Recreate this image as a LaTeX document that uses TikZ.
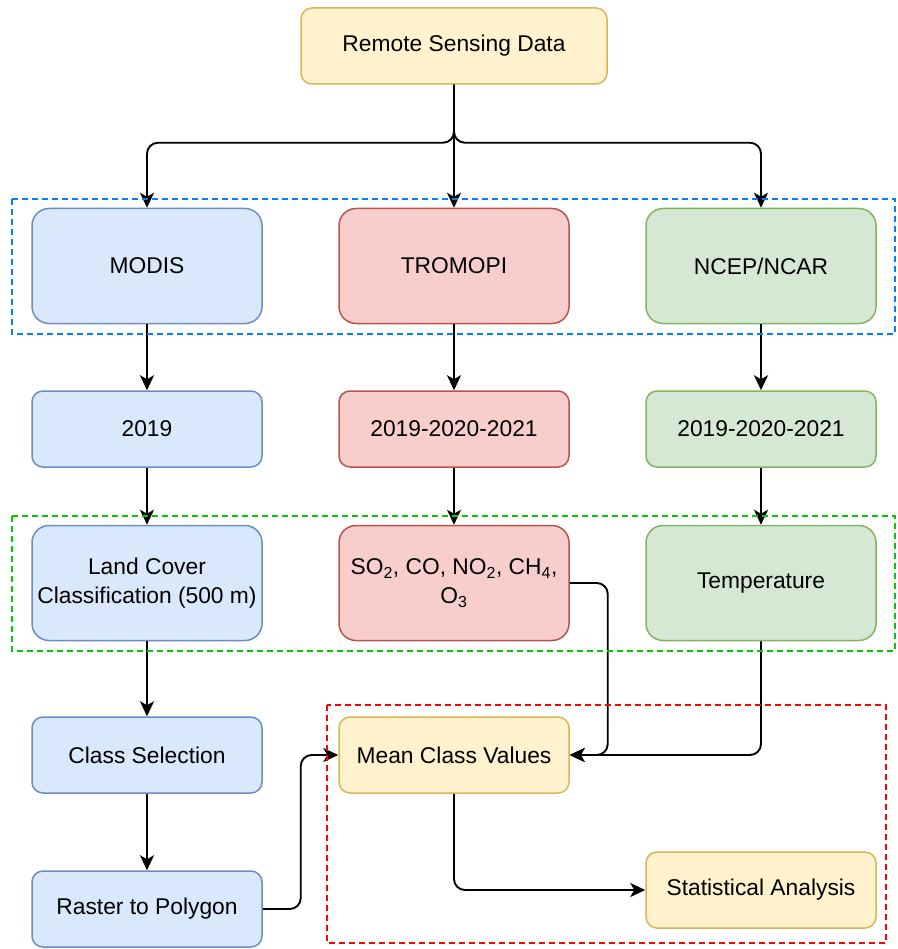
\documentclass[tikz,border=0pt]{standalone}
\usepackage{fontspec}
\setmainfont{Liberation Sans}
\usepackage{tikz}
\usetikzlibrary{arrows.meta, positioning}

\definecolor{yelfill}{HTML}{FFF2CC}\definecolor{yeldraw}{HTML}{D6B656}
\definecolor{bluefill}{HTML}{DAE8FC}\definecolor{bluedraw}{HTML}{6C8EBF}
\definecolor{redfill}{HTML}{F8CECC}\definecolor{reddraw}{HTML}{B85450}
\definecolor{grnfill}{HTML}{D5E8D4}\definecolor{grndraw}{HTML}{82B366}
\definecolor{framebl}{HTML}{007FFF}\definecolor{framegr}{HTML}{00CC00}
\definecolor{framerd}{HTML}{FF0000}

\tikzset{
  box/.style={draw, line width=1.5pt, minimum width=230pt, minimum height=76pt,
    rounded corners=11pt, align=center, font=\fontsize{22.8}{28.5}\selectfont, inner sep=2pt},
  tall/.style={minimum height=115pt, rounded corners=17pt},
  yelbox/.style={box, fill=yelfill, draw=yeldraw},
  bluebox/.style={box, fill=bluefill, draw=bluedraw},
  redbox/.style={box, fill=redfill, draw=reddraw},
  grnbox/.style={box, fill=grnfill, draw=grndraw},
  flow/.style={-{Stealth[length=15pt, width=14pt, inset=4pt]}, line width=1.9pt, rounded corners=11pt},
  frame/.style={dashed, dash pattern=on 6pt off 4pt, line width=1.6pt}
}

\begin{document}
\begin{tikzpicture}[x=1pt, y=-1pt]
    \useasboundingbox (0,0) rectangle (897,949);
    % top source
    \node[yelbox, minimum width=306pt] (rsd) at (454,46) {Remote Sensing Data};
    % data sources
    \node[bluebox, tall] (modis) at (147,266) {MODIS};
    \node[redbox, tall] (tropomi) at (454,266) {TROMOPI};
    \node[grnbox, tall] (ncep) at (761,266) {NCEP/NCAR};
    % years
    \node[bluebox] (yrmodis) at (147,429) {2019};
    \node[redbox] (yrtropomi) at (454,429) {2019-2020-2021};
    \node[grnbox] (yrncep) at (761,429) {2019-2020-2021};
    % products
    \node[bluebox, tall] (landcover) at (147,583) {Land Cover\\Classification (500 m)};
    \node[redbox, tall] (gases) at (454,583) {SO\textsubscript{2}, CO, NO\textsubscript{2}, CH\textsubscript{4},\\O\textsubscript{3}};
    \node[grnbox, tall] (temp) at (761,583) {Temperature};
    % processing
    \node[bluebox] (classsel) at (147,755) {Class Selection};
    \node[bluebox] (raster) at (147,909) {Raster to Polygon};
    \node[yelbox] (mean) at (454,755) {Mean Class Values};
    \node[yelbox] (stats) at (761,890) {Statistical Analysis};

    % connectors
    \draw[flow] (rsd.south) -- ++(0,58) -| (modis.north);
    \draw[flow] (rsd.south) -- ++(0,58) -| (ncep.north);
    \draw[flow] (rsd) -- (tropomi);
    \draw[flow] (modis) -- (yrmodis);
    \draw[flow] (tropomi) -- (yrtropomi);
    \draw[flow] (ncep) -- (yrncep);
    \draw[flow] (yrmodis) -- (landcover);
    \draw[flow] (yrtropomi) -- (gases);
    \draw[flow] (yrncep) -- (temp);
    \draw[flow] (landcover) -- (classsel);
    \draw[flow] (classsel) -- (raster);
    \draw[flow] (raster.east) -- ++(38,0) |- (mean.west);
    \draw[flow] (gases.east) -- ++(38,0) |- (mean.east);
    \draw[flow] (temp.south) |- (mean.east);
    \draw[flow] (mean.south) |- (stats.west);

    % dashed frames
    \draw[frame, framebl] (12,199) rectangle (895,334);
    \draw[frame, framegr] (12,516) rectangle (895,651);
    \draw[frame, framerd] (327,705) rectangle (886,943);
\end{tikzpicture}
\end{document}
